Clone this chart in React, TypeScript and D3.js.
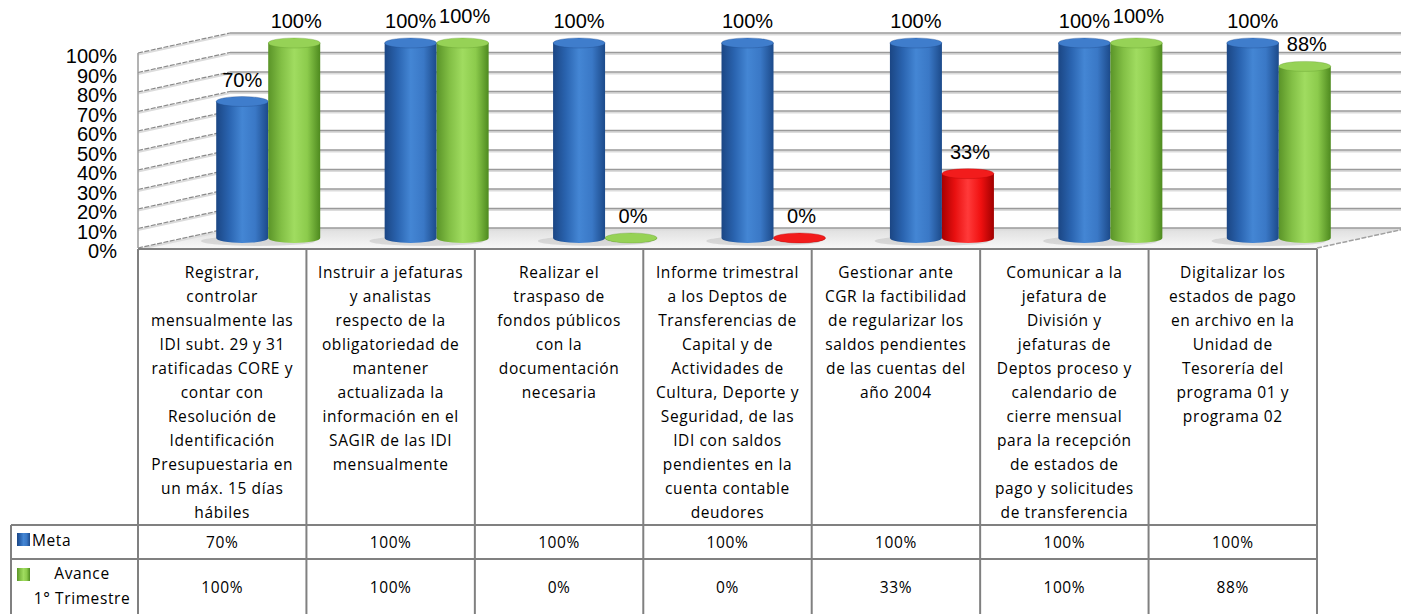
import React from 'react';
import * as d3 from 'd3';

const categories: string[][] = [
  ['Registrar,', 'controlar', 'mensualmente las', 'IDI subt. 29 y 31', 'ratificadas CORE y', 'contar con', 'Resolución de', 'Identificación', 'Presupuestaria en', 'un máx. 15 días', 'hábiles'],
  ['Instruir a jefaturas', 'y analistas', 'respecto de la', 'obligatoriedad de', 'mantener', 'actualizada la', 'información en el', 'SAGIR de las IDI', 'mensualmente'],
  ['Realizar el', 'traspaso de', 'fondos públicos', 'con la', 'documentación', 'necesaria'],
  ['Informe trimestral', 'a los Deptos de', 'Transferencias de', 'Capital y de', 'Actividades de', 'Cultura, Deporte y', 'Seguridad, de las', 'IDI con saldos', 'pendientes en la', 'cuenta contable', 'deudores'],
  ['Gestionar ante', 'CGR la factibilidad', 'de regularizar los', 'saldos pendientes', 'de las cuentas del', 'año 2004'],
  ['Comunicar a la', 'jefatura de', 'División y', 'jefaturas de', 'Deptos proceso y', 'calendario de', 'cierre mensual', 'para la recepción', 'de estados de', 'pago y solicitudes', 'de transferencia'],
  ['Digitalizar los', 'estados de pago', 'en archivo en la', 'Unidad de', 'Tesorería del', 'programa 01 y', 'programa 02'],
];

const meta = [0.7, 1, 1, 1, 1, 1, 1];
const avance = [1, 1, 0, 0, 0.33, 1, 0.88];
const avanceColors = ['green', 'green', 'green', 'red', 'red', 'green', 'green'];
const yTicks = [0, 0.1, 0.2, 0.3, 0.4, 0.5, 0.6, 0.7, 0.8, 0.9, 1];

const W = 1401;
const H = 614;
const frontLeft = 138;
const frontRight = 1317;
const floorY = 248;
const topY = 53;
const depthX = 92;
const depthY = -20;
const barW = 52;
const ry = 5;

const fmt = d3.format('.0%');
const font = '"Liberation Sans", Arial, sans-serif';
const tFont = '"Open Sans", sans-serif';

const gradStops: Record<string, string[]> = {
  blue: ['#1b4684', '#2a64b0', '#4486d4', '#3a78c6', '#1c4a8a'],
  green: ['#5a9428', '#82bf45', '#a0dc60', '#8ccb4c', '#4e8a1f'],
  red: ['#a80000', '#e81010', '#ff3a3a', '#f01010', '#a00000'],
};
const topFill: Record<string, string> = { blue: '#3f7dcc', green: '#96d256', red: '#f21c1c' };

const Cylinder: React.FC<{ cx: number; y0: number; y1: number; color: string }> = ({ cx, y0, y1, color }) => {
  const x0 = cx - barW / 2;
  return (
    <g>
      <path
        d={`M${x0},${y1} L${x0},${y0} A${barW / 2},${ry} 0 0 0 ${x0 + barW},${y0} L${x0 + barW},${y1} Z`}
        fill={`url(#g-${color})`}
      />
      <ellipse cx={cx} cy={y1} rx={barW / 2} ry={ry} fill={topFill[color]} stroke={gradStops[color][0]} strokeOpacity={0.4} strokeWidth={0.8} />
    </g>
  );
};

export default function App() {
  const x = d3.scaleBand<number>().domain(d3.range(categories.length)).range([frontLeft, frontRight]);
  const y = d3.scaleLinear().domain([0, 1]).range([floorY, topY]);
  const colW = x.bandwidth();
  const midX = depthX / 2;
  const midY = depthY / 2;

  const backLeft = frontLeft + depthX;
  const backRight = frontRight + depthX;

  return (
    <svg width={W} height={H} style={{ position: 'absolute', left: 0, top: 0, background: '#fff' }}>
      <defs>
        {Object.keys(gradStops).map((k) => (
          <linearGradient key={k} id={`g-${k}`} x1="0%" x2="100%" y1="0%" y2="0%">
            {gradStops[k].map((c, i) => (
              <stop key={i} offset={`${(i / (gradStops[k].length - 1)) * 100}%`} stopColor={c} />
            ))}
          </linearGradient>
        ))}
        <linearGradient id="floor" x1="0" x2="0" y1="0" y2="1">
          <stop offset="0%" stopColor="#dedede" />
          <stop offset="100%" stopColor="#f7f7f7" />
        </linearGradient>
      </defs>

      {/* floor */}
      <path
        d={`M${frontLeft},${floorY} L${backLeft},${floorY + depthY} L${backRight},${floorY + depthY} L${frontRight},${floorY} Z`}
        fill="url(#floor)"
      />

      {/* back wall gridlines */}
      {yTicks.map((t) => (
        <g key={t}>
          <line x1={backLeft} x2={W} y1={y(t) + depthY + 1.5} y2={y(t) + depthY + 1.5} stroke="#dcdcdc" strokeWidth={2} />
          <line x1={backLeft} x2={W} y1={y(t) + depthY} y2={y(t) + depthY} stroke="#9a9a9a" strokeWidth={1.5} />
        </g>
      ))}
      {/* left wall gridlines */}
      {yTicks.map((t) => (
        <g key={'l' + t}>
          <line x1={frontLeft} x2={backLeft} y1={y(t) + 1.5} y2={y(t) + depthY + 1.5} stroke="#dcdcdc" strokeWidth={2} />
          <line x1={frontLeft} x2={backLeft} y1={y(t)} y2={y(t) + depthY} stroke="#8a8a8a" strokeWidth={1.2} strokeDasharray="5,1.5" />
        </g>
      ))}
      <line x1={frontLeft} x2={frontLeft} y1={y(1)} y2={floorY} stroke="#9a9a9a" strokeWidth={1.5} />
      {/* floor right edge */}
      <line x1={frontRight} x2={backRight} y1={floorY} y2={floorY + depthY} stroke="#a0a0a0" strokeWidth={1.5} strokeDasharray="5,1.5" />

      {/* y axis labels */}
      {yTicks.map((t) => (
        <text key={'t' + t} x={117} y={y(t) + 10} textAnchor="end" fontFamily={font} fontSize={20} fill="#000">
          {fmt(t)}
        </text>
      ))}

      {/* cylinders */}
      {categories.map((_, i) => {
        const gc = (x(i) as number) + colW / 2 + midX;
        const base = y(0) + midY;
        const bx = gc - barW / 2;
        const ax = gc + barW / 2;
        const ay = y(avance[i]) + midY;
        const my = y(meta[i]) + midY;
        return (
          <g key={'c' + i}>
            <ellipse cx={gc - 10} cy={base + 3} rx={barW * 1.1} ry={5} fill="#bdbdbd" opacity={0.5} />
            <Cylinder cx={bx} y0={base} y1={my} color="blue" />
            <Cylinder cx={ax} y0={base} y1={ay} color={avanceColors[i]} />
            <text x={bx} y={my - 15} textAnchor="middle" fontFamily={font} fontSize={20}>
              {fmt(meta[i])}
            </text>
            <text x={ax + 2} y={ay - 15 - (avance[i] === 1 && (i === 1 || i === 5) ? 5 : 0)} textAnchor="middle" fontFamily={font} fontSize={20}>
              {fmt(avance[i])}
            </text>
          </g>
        );
      })}

      {/* table */}
      <g stroke="#808080" strokeWidth={2}>
        <line x1={frontLeft} x2={frontRight} y1={249} y2={249} />
        <line x1={11} x2={frontRight} y1={525} y2={525} />
        <line x1={11} x2={frontRight} y1={559} y2={559} />
        <line x1={11} x2={11} y1={525} y2={H} />
        {d3.range(categories.length + 1).map((i) => {
          const xx = i < categories.length ? (x(i) as number) : frontRight;
          return <line key={'v' + i} x1={xx} x2={xx} y1={249} y2={H} />;
        })}
      </g>

      {categories.map((lines, i) => {
        const cx = (x(i) as number) + colW / 2;
        return (
          <g key={'cat' + i} fontFamily={tFont} fontSize={15.5} letterSpacing={0.6} textAnchor="middle" fill="#000">
            {lines.map((l, j) => (
              <text key={j} x={cx} y={272 + j * 24 + 5.5}>
                {l}
              </text>
            ))}
            <text x={cx} y={548}>{fmt(meta[i])}</text>
            <text x={cx} y={593}>{fmt(avance[i])}</text>
          </g>
        );
      })}

      {/* legend */}
      <rect x={17} y={533} width={13} height={13} fill="url(#g-blue)" />
      <rect x={17} y={568} width={13} height={13} fill="url(#g-green)" />
      <g fontFamily={tFont} fontSize={15.5} letterSpacing={0.6} fill="#000">
        <text x={32} y={546}>Meta</text>
        <text x={82} y={579} textAnchor="middle">Avance</text>
        <text x={82} y={604} textAnchor="middle">1° Trimestre</text>
      </g>
    </svg>
  );
}
